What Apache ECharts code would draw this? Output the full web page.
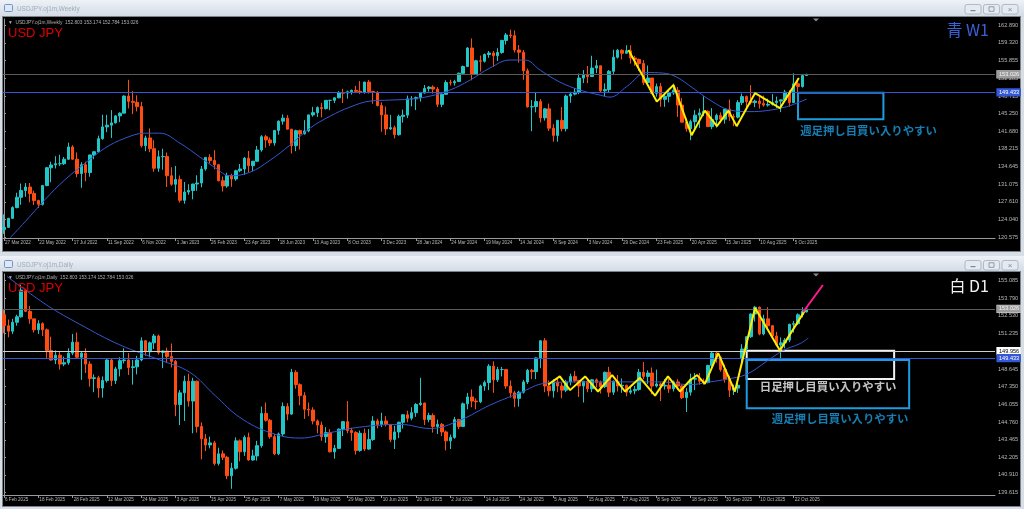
<!DOCTYPE html>
<html><head><meta charset="utf-8">
<script src="https://cdn.jsdelivr.net/npm/echarts@6/dist/echarts.min.js"></script>
<style>html,body{margin:0;padding:0;background:#d6dce4;}#c{width:1024px;height:509px;}</style>
</head><body><div id="c"></div>
<script>
// ---------------- DATA ----------------
const weeklyStartUTC = [2022, 2, 27];   // first weekly bar (Sunday)
const dailyStartUTC  = [2025, 1, 6];    // first daily bar
// weekly bars: [open, high, low, close]
const weeklyOHLC = [
[122.05,125.10,121.20,122.50],[122.50,124.40,122.40,124.30],[124.30,126.70,124.20,126.45],[126.45,129.40,126.30,128.50],[128.50,131.25,127.00,129.85],
[129.85,131.35,128.60,130.55],[130.55,131.35,127.50,129.25],[129.25,129.80,126.95,127.85],[127.85,128.00,126.35,127.10],[127.10,130.98,126.85,130.85],
[130.85,134.55,130.70,134.40],[134.40,135.60,131.50,134.95],[134.95,136.70,134.25,135.20],[135.20,137.00,134.75,135.20],[135.20,136.55,134.95,136.10],
[136.10,139.40,135.95,138.55],[138.55,138.90,135.95,136.10],[136.10,137.45,132.50,133.25],[133.25,135.50,130.40,135.00],[135.00,135.60,131.70,133.45],
[133.45,137.00,132.60,136.95],[136.95,137.70,136.10,137.60],[137.60,140.80,137.50,140.20],[140.20,144.99,140.00,142.55],[142.55,144.95,141.50,142.90],
[142.90,145.90,140.35,143.35],[143.35,144.90,143.25,144.75],[144.75,145.45,143.50,145.30],[145.30,148.85,145.25,148.70],[148.70,151.95,146.25,147.65],
[147.65,149.70,145.10,147.45],[147.45,148.85,145.65,146.60],[146.60,147.55,138.45,138.80],[138.80,140.80,137.70,140.35],[140.35,142.25,137.50,138.20],
[138.20,139.90,133.60,134.30],[134.30,137.85,133.60,136.60],[136.60,138.20,134.00,136.65],[136.65,137.45,130.55,132.80],[132.80,134.50,130.80,131.10],
[131.10,134.75,129.50,132.05],[132.05,132.85,127.45,127.90],[127.90,131.55,127.20,129.55],[129.55,131.10,129.00,129.85],[129.85,131.20,128.10,131.15],
[131.15,132.90,129.80,131.35],[131.35,134.75,130.50,134.15],[134.15,136.50,133.80,136.45],[136.45,137.10,135.25,135.85],[135.85,137.90,134.10,135.00],
[135.00,135.10,131.70,131.80],[131.80,132.65,129.65,130.75],[130.75,133.40,130.40,132.85],[132.85,133.20,130.60,132.15],[132.15,134.00,131.80,133.80],
[133.80,135.15,133.50,134.15],[134.15,136.55,133.00,136.30],[136.30,137.75,133.50,134.80],[134.80,135.75,133.70,135.70],[135.70,138.75,135.60,137.95],
[137.95,140.90,137.60,140.60],[140.60,140.95,138.40,139.95],[139.95,140.45,138.75,139.35],[139.35,141.90,138.80,141.85],[141.85,143.85,141.00,143.70],
[143.70,145.05,143.00,144.30],[144.30,144.90,142.05,142.10],[142.10,142.15,137.25,138.80],[138.80,142.00,137.70,141.80],[141.80,142.00,138.05,141.15],
[141.15,143.90,141.05,141.75],[141.75,144.95,141.50,144.95],[144.95,146.55,144.60,145.40],[145.40,146.65,144.55,146.40],[146.40,147.35,144.45,146.20],
[146.20,147.85,146.00,147.85],[147.85,147.95,145.90,147.85],[147.85,148.45,147.30,148.35],[148.35,149.70,148.30,149.35],[149.35,150.15,147.30,149.30],
[149.30,149.80,148.20,149.55],[149.55,150.00,149.00,149.85],[149.85,150.75,149.30,149.65],[149.65,151.70,149.10,149.40],[149.40,151.55,149.20,151.50],
[151.50,151.90,149.20,149.60],[149.60,149.75,147.15,149.45],[149.45,149.70,146.65,146.80],[146.80,147.45,141.60,144.95],[144.95,146.60,140.95,142.15],
[142.15,144.95,141.95,142.40],[142.40,142.80,140.25,141.00],[141.00,145.00,140.80,144.65],[144.65,146.00,143.40,144.90],[144.90,148.80,144.30,148.15],
[148.15,148.70,146.65,148.15],[148.15,148.60,145.90,148.40],[148.40,149.55,147.60,149.30],[149.30,150.90,149.20,150.20],[150.20,150.70,149.60,150.50],
[150.50,150.85,149.20,150.10],[150.10,150.50,146.50,147.05],[147.05,149.20,146.50,149.05],[149.05,151.85,148.95,151.40],[151.40,151.97,150.80,151.35],
[151.35,151.95,150.80,151.60],[151.60,153.40,151.55,153.25],[153.25,154.80,153.10,154.60],[154.60,158.45,154.55,158.30],[158.30,160.20,151.85,153.05],
[153.05,155.95,153.00,155.75],[155.75,156.80,153.60,155.65],[155.65,157.20,155.40,157.00],[157.00,157.70,156.35,157.30],[157.30,157.70,154.55,156.75],
[156.75,158.25,155.70,157.40],[157.40,159.95,157.15,159.80],[159.80,161.30,159.00,160.90],[160.90,161.95,160.25,160.75],[160.75,161.80,157.40,157.90],
[157.90,158.90,155.40,157.45],[157.45,157.90,151.95,153.75],[153.75,154.20,146.40,146.55],[146.55,147.90,141.70,146.60],[146.60,149.40,145.45,147.60],
[147.60,148.10,143.45,144.35],[144.35,146.25,143.80,146.15],[146.15,147.20,141.75,142.30],[142.30,143.10,139.60,140.85],[140.85,143.95,139.60,143.85],
[143.85,146.50,141.65,142.20],[142.20,149.00,141.65,148.70],[148.70,149.55,147.35,149.10],[149.10,150.30,148.85,149.50],[149.50,153.20,149.10,152.30],
[152.30,153.90,151.30,152.95],[152.95,154.70,151.30,152.60],[152.60,156.75,152.60,154.30],[154.30,155.90,153.30,154.75],[154.75,154.75,149.50,149.75],
[149.75,151.25,148.65,150.00],[150.00,153.90,149.40,153.65],[153.65,157.95,152.90,156.45],[156.45,158.10,156.20,157.85],[157.85,158.05,156.00,157.25],
[157.25,158.85,157.20,157.75],[157.75,158.85,155.20,156.30],[156.30,156.75,154.75,156.00],[156.00,156.20,153.70,155.20],[155.20,155.90,150.90,151.40],
[151.40,154.80,150.95,152.30],[152.30,152.30,149.20,149.25],[149.25,151.20,148.60,150.60],[150.60,151.30,146.55,148.05],[148.05,149.20,146.55,148.65],
[148.65,150.15,147.45,149.30],[149.30,151.20,148.95,149.85],[149.85,150.50,144.55,146.90],[146.90,148.30,143.45,143.50],[143.50,144.25,141.60,142.20],
[142.20,144.00,139.90,143.60],[143.60,145.90,142.00,144.90],[144.90,146.20,142.35,145.35],[145.35,148.65,144.70,145.65],[145.65,145.85,142.55,142.60],
[142.60,146.30,142.10,144.00],[144.00,145.20,142.40,144.85],[144.85,145.45,143.30,144.10],[144.10,146.15,143.20,146.10],[146.10,148.00,143.75,144.60],
[144.60,145.15,142.70,144.50],[144.50,147.90,144.25,147.40],[147.40,149.20,146.90,148.60],[148.60,148.80,145.85,147.60],[147.60,150.90,147.00,147.40],
[147.40,148.00,146.50,147.70],[147.70,148.50,146.20,147.20],[147.20,148.80,146.60,146.90],[146.90,148.20,146.60,147.05],[147.05,149.10,146.80,147.40],
[147.40,148.60,146.30,147.70],[147.70,148.00,145.50,147.95],[147.95,149.95,147.50,149.50],[149.50,149.90,146.60,147.40],[147.40,153.25,147.30,151.15],
[151.15,152.20,149.40,150.60],[150.60,153.00,150.40,152.80],[152.803,153.174,152.784,153.026]
];
// daily bars: [open, high, low, close]
const dailyOHLC = [
[152.60,152.95,151.25,151.80],[151.80,152.25,150.95,151.40],[151.40,152.30,151.20,152.05],[152.05,152.60,151.80,152.45],[152.45,154.80,152.40,154.40],
[154.40,154.45,152.80,152.85],[152.85,153.25,151.95,152.30],[152.30,152.30,151.30,151.50],[151.50,152.20,151.20,151.95],[151.95,152.05,151.05,151.50],
[151.50,151.60,149.45,150.00],[150.00,151.00,149.25,149.30],[149.30,150.00,149.00,149.65],[149.65,149.95,148.60,149.00],[149.00,149.55,148.85,149.10],
[149.10,150.15,148.95,149.80],[149.80,151.20,149.65,150.60],[150.60,151.30,149.40,149.50],[149.50,149.95,147.85,149.80],[149.80,150.15,148.35,149.00],
[149.00,149.20,147.35,147.95],[147.95,148.25,146.95,148.00],[148.00,148.15,146.55,147.25],[147.25,148.10,146.55,147.80],[147.80,149.35,147.65,149.30],
[149.30,149.40,147.40,147.80],[147.80,148.80,147.55,148.65],[148.65,149.50,148.10,149.25],[149.25,150.15,149.05,149.30],[149.30,149.80,148.20,148.75],
[148.75,149.30,147.50,148.80],[148.80,149.60,148.25,149.30],[149.30,150.95,149.20,150.70],[150.70,150.75,149.60,149.90],[149.90,150.65,149.50,150.55],
[150.55,151.20,150.10,151.05],[151.05,151.15,149.70,149.85],[149.85,150.00,148.70,149.95],[149.95,150.20,149.10,149.55],[149.55,150.50,148.75,149.20],
[149.20,149.30,145.20,146.05],[146.05,147.10,144.55,146.90],[146.90,148.15,144.85,147.75],[147.75,148.30,145.90,146.30],[146.30,148.00,143.95,147.75],
[147.75,147.80,144.00,144.45],[144.45,144.75,142.05,143.55],[143.55,143.90,142.65,143.10],[143.10,143.70,142.85,143.25],[143.25,143.40,141.60,141.75],
[141.75,142.90,141.60,142.45],[142.45,142.70,142.00,142.20],[142.20,142.30,140.60,140.85],[140.85,141.80,139.90,141.40],[141.40,143.65,141.30,143.40],
[143.40,143.50,141.90,142.60],[142.60,143.80,142.30,143.65],[143.65,144.00,141.95,142.00],[142.00,142.75,141.95,142.30],[142.30,143.40,141.95,143.05],
[143.05,145.90,142.90,145.40],[145.40,146.20,144.80,144.90],[144.90,145.00,143.55,143.70],[143.70,143.90,142.35,142.45],[142.45,144.00,142.35,143.90],
[143.90,146.20,143.75,145.90],[145.90,146.15,144.90,145.35],[145.35,148.65,145.30,148.40],[148.40,148.55,147.20,147.50],[147.50,147.60,146.00,146.70],
[146.70,146.95,145.00,145.70],[145.70,146.20,145.20,145.65],[145.65,145.85,144.60,144.85],[144.85,144.95,143.95,144.55],[144.55,144.80,143.40,143.70],
[143.70,144.40,143.25,144.00],[144.00,144.25,142.55,142.60],[142.60,143.10,142.10,142.85],[142.85,144.30,142.80,144.25],[144.25,144.85,143.75,144.80],
[144.80,146.30,143.95,144.15],[144.15,144.35,143.40,144.00],[144.00,144.10,142.40,142.70],[142.70,144.15,142.60,143.95],[143.95,144.30,142.65,142.80],
[142.80,144.25,142.75,143.50],[143.50,145.20,143.40,144.85],[144.85,145.00,144.30,144.60],[144.60,145.45,144.40,144.85],[144.85,145.20,144.45,144.60],
[144.60,144.60,143.30,143.50],[143.50,144.50,142.80,144.05],[144.05,144.80,143.60,144.75],[144.75,145.35,144.30,145.30],[145.30,145.60,144.75,145.05],
[145.05,145.85,144.90,145.45],[145.45,146.15,145.15,146.05],[146.05,148.00,145.95,146.15],[146.15,146.20,144.55,144.95],[144.95,145.45,144.75,145.25],
[145.25,145.40,144.00,144.45],[144.45,144.95,143.90,144.60],[144.60,144.70,143.75,144.05],[144.05,144.15,142.70,143.40],[143.40,143.85,142.80,143.65],
[143.65,145.15,143.55,144.95],[144.95,145.00,144.25,144.45],[144.45,146.20,144.40,146.10],[146.10,146.90,145.70,146.60],[146.60,147.15,145.85,146.30],
[146.30,146.50,145.70,146.25],[146.25,147.50,146.15,147.40],[147.40,147.80,147.05,147.65],[147.65,149.00,147.10,148.85],[148.85,149.20,146.90,147.85],
[147.85,148.80,147.70,148.60],[148.60,148.80,148.10,148.60],[148.60,148.65,147.20,147.40],[147.40,147.80,146.55,146.90],[146.90,147.05,145.85,146.50],
[146.50,147.05,145.90,146.95],[146.95,147.85,146.85,147.70],[147.70,148.65,147.55,148.55],[148.55,148.65,147.90,148.45],[148.45,149.50,147.90,149.45],
[149.45,150.75,148.70,150.70],[150.70,150.90,146.95,147.40],[147.40,147.80,146.65,147.05],[147.05,147.90,146.55,147.70],[147.70,148.05,146.95,147.40],
[147.40,147.65,146.50,147.10],[147.10,147.85,146.95,147.70],[147.70,148.30,147.45,148.10],[148.10,148.50,147.65,147.80],[147.80,147.85,146.60,147.40],
[147.40,147.75,146.20,147.75],[147.75,147.85,146.95,147.20],[147.20,147.90,146.95,147.85],[147.85,147.95,147.30,147.65],[147.65,147.80,146.85,147.35],
[147.35,148.45,147.25,148.40],[148.40,148.80,146.60,146.95],[146.95,147.80,146.75,147.75],[147.75,148.20,147.00,147.40],[147.40,147.95,146.90,147.45],
[147.45,147.50,146.65,146.95],[146.95,147.40,146.80,147.05],[147.05,147.40,146.80,147.15],[147.15,148.65,147.05,148.40],[148.40,149.15,147.90,148.10],
[148.10,148.55,147.55,148.35],[148.35,148.75,146.80,147.40],[147.40,148.60,147.30,147.55],[147.55,147.65,146.30,147.40],[147.40,147.90,147.15,147.45],
[147.45,147.90,146.90,147.20],[147.20,147.80,147.00,147.70],[147.70,147.90,147.10,147.40],[147.40,147.50,146.45,146.55],[146.55,147.25,145.50,146.95],
[146.95,148.30,146.70,147.90],[147.90,148.35,147.10,147.95],[147.95,148.35,147.50,147.75],[147.75,147.95,147.50,147.65],[147.65,148.95,147.60,148.90],
[148.90,149.95,148.75,149.80],[149.80,149.90,149.10,149.50],[149.50,149.55,148.45,148.60],[148.60,148.95,147.65,147.90],[147.90,148.15,146.60,147.10],
[147.10,147.50,146.75,147.25],[147.25,147.90,146.90,147.45],[149.40,150.45,149.05,150.10],[150.10,151.00,149.90,151.00],[151.00,152.70,150.90,152.65],
[152.65,153.25,152.10,153.15],[153.15,153.20,151.10,151.20],[151.20,152.60,151.10,152.30],[152.30,153.15,151.55,151.80],[151.80,151.85,150.85,151.05],
[151.05,151.35,150.30,150.40],[150.40,150.95,149.40,150.55],[150.55,150.90,150.15,150.75],[150.75,151.95,150.60,151.90],[151.90,152.15,151.30,151.95],
[151.95,152.70,151.85,152.60],[152.60,153.15,152.40,152.85],[152.803,153.174,152.784,153.026]
];
// moving average: [barIndex, price]
const weeklyMA = [[1.4,120.4],[4.9,123.6],[9.5,128.0],[14.2,132.0],[18.9,135.3],[23.5,138.3],[28.2,140.3],[32.9,141.3],[36.3,141.3],[41.0,139.3],[45.7,136.5],[49.2,134.4],[52.7,132.8],[57.3,133.5],[62.0,135.9],[66.6,138.9],[71.3,142.3],[76.0,144.7],[80.6,146.5],[85.3,147.7],[89.9,147.9],[94.6,148.1],[99.3,148.7],[103.9,149.9],[108.6,151.9],[113.2,154.3],[117.9,155.9],[121.4,155.9],[124.9,153.9],[129.5,151.5],[134.2,149.9],[138.9,148.9],[141.2,148.5],[145.1,150.6],[149.8,153.4],[153.5,153.3],[156.7,152.5],[160.5,150.3],[164.5,147.9],[169.2,145.9],[173.8,145.6],[177.7,145.8],[182.4,146.6],[187.0,148.1]];
const dailyMA = [[0.7,155.4],[10.0,153.3],[17.7,151.9],[27.0,150.4],[36.3,149.3],[43.3,148.4],[49.2,146.7],[55.0,145.1],[62.0,144.0],[69.0,143.6],[76.0,144.0],[82.9,144.4],[92.3,144.6],[99.3,144.3],[106.2,144.9],[113.2,146.0],[120.2,146.9],[126.1,147.6],[134.2,147.7],[143.5,147.7],[152.9,147.7],[159.8,147.5],[164.5,147.7],[168.4,147.9],[173.0,148.25],[177.7,149.2],[181.6,150.0],[185.5,150.5],[187.4,150.9]];
// hand-drawn zigzag lines: [barIndex, price]
const weeklyZigzag = [[145.5,157.9],[152.1,147.6],[156.0,150.9],[160.2,140.9],[163.3,145.8],[166.1,142.7],[168.8,145.8],[170.7,142.7],[175.0,149.3],[180.8,146.3],[185.2,152.3]];
const dailyZigzag = [[126.8,147.5],[129.5,148.1],[131.9,147.1],[135.4,148.1],[138.4,147.0],[141.7,148.2],[144.7,147.0],[148.2,148.0],[151.7,146.7],[154.7,148.1],[157.5,147.0],[159.8,147.8],[161.5,148.2],[163.3,147.55],[166.4,149.8],[170.3,147.0],[175.0,153.1],[180.8,150.0],[186.6,152.9]];
const dailyArrow = [[186.2,152.8],[190.8,154.77]];
// price levels
const currentPrice = 153.026;
const blueLevel = 149.433;
const whiteLevel = 149.956;
// annotation boxes: [[barFrom, priceTop],[barTo, priceBottom]]
const weeklyBox = [[185.0,149.38],[204.9,144.07]];
const dailyWhiteBox = [[173.05,149.977],[207.4,147.912]];
const dailyBlueBox = [[173.05,149.30],[210.9,145.774]];
const weeklyNote = {text:'週足押し目買い入りやすい', at:[185.5,141.73]};
const dailyNoteW = {text:'日足押し目買い入りやすい', at:[176.1,147.33]};
const dailyNoteB = {text:'週足押し目買い入りやすい', at:[178.9,145.03]};
// axis tick labels
const weeklyPriceTicks = [120.575,124.040,127.610,131.075,134.645,138.215,141.680,145.250,148.715,152.285,155.855,159.320,162.890];
const dailyPriceTicks = [139.615,140.910,142.205,143.465,144.760,146.055,147.350,148.645,149.940,151.235,152.530,153.790,155.085];
const timeLabelEvery = 8;

// ---------------- BUILD ----------------
const MON = ['Jan','Feb','Mar','Apr','May','Jun','Jul','Aug','Sep','Oct','Nov','Dec'];
const fmtDate = d => d.getUTCDate() + ' ' + MON[d.getUTCMonth()] + ' ' + d.getUTCFullYear();
const weeklyDates = weeklyOHLC.map((_, i) => fmtDate(new Date(Date.UTC(...weeklyStartUTC) + i * 7 * 864e5)));
const dailyDates = [];
{ let d = new Date(Date.UTC(...dailyStartUTC));
  while (dailyDates.length < dailyOHLC.length) {
    const w = d.getUTCDay();
    if (w !== 0 && w !== 6) dailyDates.push(fmtDate(d));
    d = new Date(d.getTime() + 864e5);
  } }
const toCandle = rows => rows.map((r, i) => [i, r[0], r[3], r[2], r[1]]);
const ticksFor = n => { const a = []; for (let i = 0; i < n; i += timeLabelEvery) a.push(i); return a; };

const UP = '#22c6c6', DN = '#ff4d12', AX = '#9a9a9a', LBL = '#b8b8b8';
const FONT = 'Liberation Sans';
const JP = 'Noto Sans CJK JP';

const grids = [
  {left: 3, top: 19, width: 992, height: 219, xMin: -0.233, xMax: 230.9, yMin: 120.375, yMax: 164.088},
  {left: 3, top: 274, width: 992, height: 221, xMin: -0.233, xMax: 230.9, yMin: 139.447, yMax: 155.574}
];

function xAxisFor(gi, dates) {
  const t = ticksFor(dates.length);
  return {type: 'value', gridIndex: gi, min: grids[gi].xMin, max: grids[gi].xMax,
    axisLine: {show: true, lineStyle: {color: AX, width: 1}},
    axisTick: {show: true, customValues: t, length: 3, lineStyle: {color: AX}},
    axisLabel: {customValues: t, formatter: v => dates[Math.round(v)] || '', align: 'left',
      color: LBL, fontSize: 4.6, fontFamily: FONT, margin: 2, padding: [0, 0, 0, 1]},
    splitLine: {show: false}};
}
function yAxisFor(gi, ticks) {
  return {type: 'value', gridIndex: gi, position: 'right', min: grids[gi].yMin, max: grids[gi].yMax,
    axisLine: {show: true, lineStyle: {color: AX, width: 1}},
    axisTick: {show: true, customValues: ticks, length: 2, lineStyle: {color: AX}},
    axisLabel: {customValues: ticks, formatter: v => v.toFixed(3), color: LBL, fontSize: 5.6, fontFamily: FONT, margin: 3},
    splitLine: {show: false}};
}
const priceTag = (value, bg, fg, border) => ({show: true, position: 'end', distance: 2, formatter: () => value.toFixed(3),
  backgroundColor: bg, color: fg, borderColor: border, borderWidth: 0.6, fontSize: 5.6, fontFamily: FONT, padding: [1, 1, 0, 2]});

function candles(gi, rows, levels, boxes) {
  return {type: 'candlestick', xAxisIndex: gi, yAxisIndex: gi, data: toCandle(rows), encode: {x: 0, y: [1, 2, 3, 4]},
    barWidth: 3, clip: true, silent: true,
    itemStyle: {color: UP, color0: DN, borderColor: UP, borderColor0: DN, borderWidth: 1},
    markLine: {silent: true, symbol: ['none', 'none'], animation: false, precision: 3, data: levels},
    markArea: {silent: true, data: boxes}};
}
function line(gi, pts, color, width, smooth, z) {
  return {type: 'line', xAxisIndex: gi, yAxisIndex: gi, data: pts, showSymbol: false, symbol: 'none', smooth: smooth,
    lineStyle: {color: color, width: width}, clip: true, silent: true, z: z};
}
function note(gi, n, color) {
  return {type: 'scatter', xAxisIndex: gi, yAxisIndex: gi, symbolSize: 0, silent: true, z: 6,
    data: [{value: n.at, name: n.text}],
    label: {show: true, position: 'right', distance: 0, formatter: '{b}', color: color, fontSize: 11.4,
      fontFamily: JP, fontWeight: 'bold'}};
}
const boxOf = (b, color) => [{coord: b[0], itemStyle: {color: 'rgba(0,0,0,0)', borderColor: color, borderWidth: 2}}, {coord: b[1]}];

const levelsW = [
  {yAxis: currentPrice, lineStyle: {color: '#5c5c5c', width: 1, type: 'solid'}, label: priceTag(currentPrice, '#9c9c9c', '#f4f4f4', '#d0d0d0')},
  {yAxis: blueLevel, lineStyle: {color: '#3458d6', width: 1, type: 'solid'}, label: priceTag(blueLevel, '#3458d6', '#ffffff', '#3458d6')}
];
const levelsD = [
  {yAxis: currentPrice, lineStyle: {color: '#5c5c5c', width: 1, type: 'solid'}, label: priceTag(currentPrice, '#9c9c9c', '#f4f4f4', '#d0d0d0')},
  {yAxis: whiteLevel, lineStyle: {color: '#cfcfcf', width: 1, type: 'solid'}, label: priceTag(whiteLevel, '#ffffff', '#000000', '#ffffff')},
  {yAxis: blueLevel, lineStyle: {color: '#3458d6', width: 1, type: 'solid'}, label: priceTag(blueLevel, '#3458d6', '#ffffff', '#3458d6')}
];

// window chrome (not data)
const barGrad = {type: 'linear', x: 0, y: 0, x2: 0, y2: 1, colorStops: [{offset: 0, color: '#eef2f7'}, {offset: 1, color: '#d2dae4'}]};
function chrome(y0, blackTop, blackH, title) {
  const els = [
    {type: 'rect', z: -20, shape: {x: 0, y: y0, width: 1024, height: blackTop - y0}, style: {fill: barGrad}},
    {type: 'rect', z: -20, shape: {x: 2, y: blackTop - 1, width: 1019, height: blackH + 2}, style: {fill: '#7c828a'}},
    {type: 'rect', z: -19, shape: {x: 3, y: blackTop, width: 1017, height: blackH}, style: {fill: '#000000'}},
    {type: 'rect', z: -18, shape: {x: 4.5, y: y0 + 4.5, width: 8, height: 7, r: 1}, style: {fill: '#dfe9f5', stroke: '#6f93c4', lineWidth: 1}},
    {type: 'text', z: -18, x: 17, y: y0 + 9, style: {text: title, fill: '#9fabb8', fontSize: 6.4, fontFamily: FONT, verticalAlign: 'middle'}}
  ];
  [965, 983.5, 1002].forEach((bx, k) => {
    els.push({type: 'rect', z: -18, shape: {x: bx, y: y0 + 4.5, width: 16, height: 9.5, r: 2}, style: {fill: '#e4eaf1', stroke: '#a3adb9', lineWidth: 0.8}});
    if (k === 0) els.push({type: 'rect', z: -17, shape: {x: bx + 5.5, y: y0 + 10, width: 5, height: 1.2}, style: {fill: '#7d8791'}});
    if (k === 1) els.push({type: 'rect', z: -17, shape: {x: bx + 5.5, y: y0 + 6.8, width: 5, height: 4.5}, style: {fill: 'none', stroke: '#7d8791', lineWidth: 0.8}});
    if (k === 2) els.push({type: 'text', z: -17, x: bx + 8, y: y0 + 9.5, style: {text: '×', fill: '#7d8791', fontSize: 8, fontFamily: FONT, align: 'center', verticalAlign: 'middle'}});
  });
  return els;
}
const graphics = [].concat(
  [{type: 'rect', z: -30, shape: {x: 0, y: 0, width: 1024, height: 509}, style: {fill: '#d8dee6'}}],
  chrome(0, 17, 234, 'USDJPY.oj1m,Weekly'),
  chrome(256, 272, 234, 'USDJPY.oj1m,Daily'),
  [
    {type: 'text', z: 50, x: 8, y: 22.7, style: {text: '▼  USDJPY.oj1m,Weekly  152.803 153.174 152.784 153.026', fill: '#b0b0b0', fontSize: 4.8, fontFamily: FONT, verticalAlign: 'middle'}},
    {type: 'text', z: 50, x: 8, y: 278, style: {text: '▼  USDJPY.oj1m,Daily  152.803 153.174 152.784 153.026', fill: '#b0b0b0', fontSize: 4.8, fontFamily: FONT, verticalAlign: 'middle'}},
    {type: 'text', z: 50, x: 8, y: 33.5, style: {text: 'USD JPY', fill: '#dd0000', fontSize: 13, fontFamily: FONT, verticalAlign: 'middle'}},
    {type: 'text', z: 50, x: 8, y: 288.5, style: {text: 'USD JPY', fill: '#dd0000', fontSize: 13, fontFamily: FONT, verticalAlign: 'middle'}},
    {type: 'text', z: 50, x: 989, y: 30, style: {text: '青 W1', fill: '#3a62d8', fontSize: 16, fontFamily: JP, align: 'right', verticalAlign: 'middle'}},
    {type: 'text', z: 50, x: 989, y: 286, style: {text: '白 D1', fill: '#f2f2f2', fontSize: 16, fontFamily: JP, align: 'right', verticalAlign: 'middle'}},
    {type: 'polygon', z: 50, shape: {points: [[813, 18.5], [819, 18.5], [816, 21.5]]}, style: {fill: '#8a8a8a'}},
    {type: 'polygon', z: 50, shape: {points: [[813, 273.5], [819, 273.5], [816, 276.5]]}, style: {fill: '#8a8a8a'}}
  ]
);

const chart = echarts.init(document.getElementById('c'), null, {renderer: 'canvas'});
chart.setOption({
  animation: false,
  backgroundColor: 'transparent',
  graphic: {elements: graphics},
  grid: grids.map(g => ({left: g.left, top: g.top, width: g.width, height: g.height, show: false, containLabel: false})),
  xAxis: [xAxisFor(0, weeklyDates), xAxisFor(1, dailyDates)],
  yAxis: [yAxisFor(0, weeklyPriceTicks), yAxisFor(1, dailyPriceTicks)],
  series: [
    candles(0, weeklyOHLC, levelsW, [boxOf(weeklyBox, '#1c9de0')]),
    line(0, weeklyMA, '#3457d0', 1, 0.4, 4),
    line(0, weeklyZigzag, '#ffee00', 2, false, 5),
    note(0, weeklyNote, '#1c9de0'),
    candles(1, dailyOHLC, levelsD, [boxOf(dailyWhiteBox, '#f0f0f0'), boxOf(dailyBlueBox, '#1c9de0')]),
    line(1, dailyMA, '#3457d0', 1, 0.4, 4),
    line(1, dailyZigzag, '#ffee00', 2, false, 5),
    line(1, dailyArrow, '#ff1a8c', 2, false, 5),
    note(1, dailyNoteW, '#f4f4f4'),
    note(1, dailyNoteB, '#1c9de0')
  ]
});
</script>
</body></html>
